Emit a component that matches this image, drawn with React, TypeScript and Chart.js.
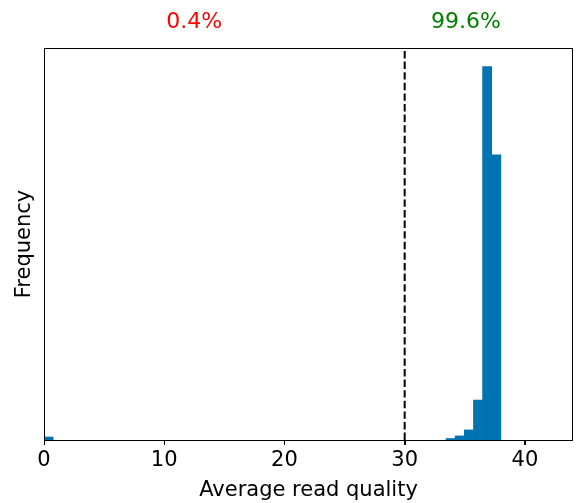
import React, { useEffect, useRef } from "react";
import { Chart, registerables } from "chart.js";

Chart.register(...registerables);

// Histogram bins (start edge of each non-empty bin), bin width, and counts
const binWidth = 0.76;
const binStarts = [0, 33.44, 34.2, 34.96, 35.72, 36.48, 37.24];
const binCounts = [8, 4, 11, 27, 107, 1000, 764];
const threshold = 30;
const xTicks = [0, 10, 20, 30, 40];
const pctLabels = ["0.4%", "99.6%"];
const pctColors = ["#ff0000", "#008000"];
const pctPositions = [12.5, 35.1];

const FONT = "'DejaVu Sans', 'Liberation Sans', sans-serif";

export default function App() {
  const ref = useRef<HTMLCanvasElement | null>(null);

  useEffect(() => {
    if (!ref.current) return;
    const yMax = Math.max(...binCounts) * 1.05;

    const framePlugin = {
      id: "frame",
      afterDraw(chart: any) {
        const { ctx, chartArea } = chart;
        ctx.save();
        ctx.strokeStyle = "#000";
        ctx.lineWidth = 1;
        ctx.strokeRect(
          Math.round(chartArea.left) + 0.5,
          Math.round(chartArea.top) + 0.5,
          Math.round(chartArea.right - chartArea.left) - 1,
          Math.round(chartArea.bottom - chartArea.top)
        );
        const xs = chart.scales.x;
        // tick marks
        const yb = Math.round(chartArea.bottom);
        ctx.beginPath();
        xTicks.forEach((v) => {
          const px = Math.round(xs.getPixelForValue(v)) + 0.5;
          ctx.moveTo(px, yb);
          ctx.lineTo(px, yb + 5);
        });
        ctx.stroke();
        ctx.font = `22px ${FONT}`;
        ctx.textAlign = "center";
        ctx.textBaseline = "alphabetic";
        pctLabels.forEach((t, i) => {
          ctx.fillStyle = pctColors[i];
          ctx.fillText(t, xs.getPixelForValue(pctPositions[i]), 28);
        });
        ctx.restore();
      },
    };

    const chart = new Chart(ref.current, {
      type: "bar",
      data: {
        datasets: [
          {
            type: "bar",
            data: binStarts.map((s, i) => ({ x: s + binWidth / 2, y: binCounts[i] })),
            backgroundColor: "#0173b2",
            borderWidth: 0,
            barPercentage: 1,
            categoryPercentage: 1,
            order: 2,
          } as any,
          {
            type: "line",
            data: [
              { x: threshold, y: 0 },
              { x: threshold, y: yMax },
            ],
            borderColor: "#000",
            borderWidth: 2,
            borderDash: [7.4, 3.2],
            pointRadius: 0,
            fill: false,
            order: 1,
          } as any,
        ],
      },
      options: {
        animation: false,
        responsive: false,
        maintainAspectRatio: false,
        layout: { padding: { top: 48, right: 6, left: 0, bottom: 0 } },
        plugins: { legend: { display: false }, tooltip: { enabled: false }, title: { display: false } },
        scales: {
          x: {
            type: "linear",
            min: 0,
            max: 44,
            offset: false,
            afterFit: (s: any) => {
              s.height = 63;
            },
            afterBuildTicks: (s: any) => {
              s.ticks = xTicks.map((v) => ({ value: v }));
            },
            ticks: {
              stepSize: 10,
              includeBounds: false,
              color: "#000",
              font: { family: FONT, size: 21 },
              padding: 3,
              maxRotation: 0,
            },
            grid: {
              display: true,
              offset: false,
              drawOnChartArea: false,
              drawTicks: true,
              tickLength: 5,
              color: "#000",
              lineWidth: 1,
            },
            border: { display: false },
            title: {
              display: true,
              text: "Average read quality",
              color: "#000",
              font: { family: FONT, size: 21 },
              padding: { top: 3, bottom: 0 },
            },
          },
          y: {
            type: "linear",
            min: 0,
            max: yMax,
            afterFit: (s: any) => {
              s.width = 44;
            },
            ticks: { display: false },
            grid: { display: false },
            border: { display: false },
            title: {
              display: true,
              text: "Frequency",
              color: "#000",
              font: { family: FONT, size: 21 },
              padding: { top: 12, bottom: 0 },
            },
          },
        },
      },
      plugins: [framePlugin],
    });
    return () => chart.destroy();
  }, []);

  return (
    <div style={{ position: "fixed", left: 0, top: 0, width: 579, height: 503, background: "#fff" }}>
      <canvas ref={ref} width={579} height={503} style={{ width: 579, height: 503 }} />
    </div>
  );
}
